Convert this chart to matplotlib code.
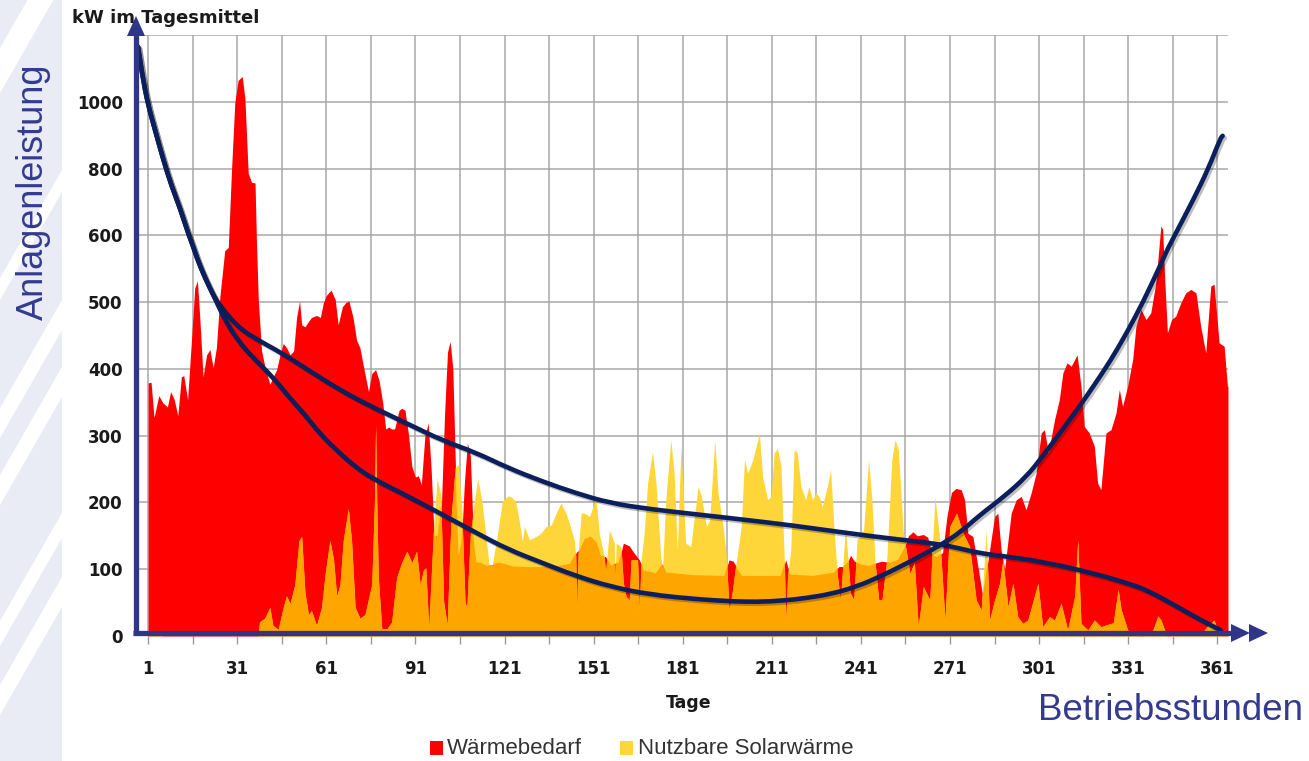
import numpy as np
import matplotlib
matplotlib.use("Agg")
import matplotlib.pyplot as plt
import matplotlib.patheffects as pe
from matplotlib.patches import Polygon, Rectangle, PathPatch
from matplotlib.path import Path

# ---- data ----
dem_day = [1, 2, 3, 4.6, 6, 7.5, 8.6, 9.8, 11, 12.2, 13, 14.3, 15.6, 16.7, 17.6, 18.4,
           19.5, 20.7, 21.8, 22.9, 24, 25.2, 26.8, 28, 29.1, 30.2, 31.3, 32.7, 33.6,
           34.7, 35.8, 37, 37.5, 38.1, 39.2, 40.3, 42, 43.1, 44.3, 45.4, 46.5, 47.6,
           48.8, 50, 51, 52, 52.7, 53.8, 55, 56, 57.7, 59, 60, 61, 62.6, 64, 65, 66.4,
           67.5, 68.6, 70, 71.2, 72.3, 73.5, 75.2, 76.3, 77.6, 78.8, 80, 81, 82, 83,
           84, 85.5, 86.4, 87.5, 88.6, 89.8, 91, 92, 93, 94.2, 95.3, 96.3, 97.3, 98.5,
           99.8, 100.8, 101.8, 102.7, 103.6, 104.5, 105.5, 106.5, 107.5, 108.5, 109.5,
           110.5, 111.5, 113, 115, 117, 119, 121, 124, 130, 138, 143, 145.3, 146.5,
           148, 150, 152, 153.5, 155, 157, 158.2, 159.5, 161, 163, 164.5, 166.4, 168,
           172, 174.2, 175.5, 185, 195, 196.6, 198, 199.5, 201, 214, 215.7, 217, 225,
           232, 233.6, 235, 236.5, 237.5, 238.8, 241, 244, 246.4, 248, 251, 253.5,
           255.5, 257, 258.5, 260, 262, 263.5, 265, 266.5, 268.5, 270, 271.5, 273,
           274.8, 275.9, 277, 278.7, 280.4, 282, 283.5, 286, 287.1, 288.2, 289.4,
           291.6, 293.3, 295, 296.6, 298.3, 300, 301.7, 302.8, 304.1, 306.2, 307.8,
           309, 310.4, 311.8, 313.8, 315.1, 316.2, 317.9, 319.6, 320.7, 321.8, 323.5,
           325.2, 326.9, 328, 329.1, 330.8, 332.5, 333.6, 335.3, 337, 338.6, 340.3,
           342, 342.6, 343.3, 344.2, 345.6, 347, 348.7, 350.4, 352.1, 353.8, 355.4,
           357.1, 358.8, 359.9, 361.6, 363.3, 364.4, 364.6]
dem_kw = [379, 380, 327, 360, 349, 343, 366, 354, 330, 388, 390, 354, 443, 521, 532, 477,
          388, 421, 429, 402, 432, 510, 577, 582, 798, 998, 1064, 1076, 1009,
          787, 759, 757, 588, 504, 427, 404, 377, 388, 399, 421, 438, 432,
          421, 427, 477, 502, 466, 463, 471, 477, 480, 477, 499, 510, 518, 504, 466, 493,
          499, 502, 477, 443, 432, 404, 366, 393, 399, 382, 349, 310, 313, 310,
          310, 338, 341, 338, 304, 254, 238, 240, 227, 300, 319, 250, 150, 150,
          200, 330, 425, 441, 400, 250, 120, 140, 230, 289, 270,
          150, 110, 110, 105, 107, 110, 108, 104, 103, 104, 108, 126, 130,
          145, 149, 140, 120, 119, 105, 109, 110, 139, 135, 125, 114, 98,
          94, 108, 95, 91, 90, 114, 112, 100, 90, 90, 114, 92, 90,
          95, 104, 104, 110, 121, 112, 107, 105, 110, 112, 110, 114,
          130, 150, 156, 150, 152, 148, 122, 118, 125, 180, 215, 221,
          219, 204, 154, 149, 104, 60, 104, 179, 184, 129, 100,
          184, 204, 209, 189, 214, 244, 304, 309, 274, 324, 354,
          394, 409, 404, 421, 374, 314, 304, 284, 229, 219, 304,
          309, 334, 369, 344, 374, 414, 464, 489, 474, 484, 529,
          628, 618, 534, 454, 474, 479, 499, 514, 519, 514, 464,
          424, 524, 527, 439, 434, 374, 374]

sol_day = [1, 3, 4, 5, 6, 38, 38.5, 40.3, 42, 43, 44.8, 46.5, 47.6, 48.8, 50.4, 51.8,
           52.7, 53.8, 55, 56, 57.7, 59.4, 60.6, 62.2, 63.4, 64.5, 65.6, 66.7, 68.4,
           69.5, 70.7, 72.3, 74, 76.3, 77.2, 77.6, 78, 78.5, 79.7, 81.3, 83, 84.7,
           86.4, 88.1, 89.8, 91.4, 92.6, 93.7, 94.5, 95.5, 97, 98.3, 99.5, 100.5,
           101.7, 103, 104.4, 105.5, 106.6, 107.7, 108.3, 109.5, 111, 112, 113.4,
           114.7, 115.8, 116.9, 118.6, 120.3, 121.4, 122.5, 123.6, 124.7, 125.8, 127,
           127.7, 129.4, 131.6, 133.3, 135, 136.7, 138.4, 140, 141.7, 142.8, 144.5,
           145, 145.3, 145.8, 146.8, 147.9, 149.6, 151.8, 152.9, 154.6, 155, 155.5,
           156.3, 158, 158.2, 158.6, 160.2, 161, 161.9, 163, 163.6, 165.8, 166.4, 167,
           168, 169.2, 170.8, 172, 173.6, 174.2, 175.3, 177, 178.1, 179.2, 180.4, 182,
           183.7, 184, 186.2, 187.3, 189, 190.1, 191.8, 192.9, 194.6, 195.7, 196.6,
           197.5, 198.5, 200.7, 201.8, 202.9, 204.6, 206.3, 206.8, 207.9, 209.6,
           210.7, 211.8, 212.9, 214.1, 215.2, 215.7, 216.3, 217.4, 218.5, 219.6,
           220.8, 222.4, 223.5, 224.7, 225.8, 226.9, 228, 229.7, 230.8, 231.9, 233,
           234.1, 235.8, 237.5, 238.6, 239.7, 241.9, 243.6, 244.7, 245.8, 247, 248.1,
           249.7, 251.4, 252.5, 253.6, 255.3, 257.5, 259, 260.3, 262, 264.2, 265.9,
           267.6, 269.3, 270.9, 273.2, 275.4, 277.6, 279.8, 281.5, 283.2, 284.3, 286,
           287.7, 288.8, 290.5, 292.2, 293.8, 295.5, 297.2, 300.6, 302.2, 304.5,
           306.2, 308.4, 310.6, 313, 314, 315.1, 317.4, 319.6, 321.8, 326, 327.6,
           328.6, 330.8, 335.3, 339, 341, 342, 344, 356, 357.5, 359.9, 361, 363, 364.6]
sol_kw = [0, 3, 6, 3, 0, 0, 21, 27, 43, 16, 10, 43, 60, 49, 77, 143,
          149, 66, 32, 38, 16, 43, 93, 143, 116, 60, 77, 143, 191,
          143, 43, 27, 32, 77, 200, 316, 200, 88, 10, 10, 21, 88,
          110, 127, 110, 127, 77, 99, 102, 12, 152, 237, 212, 52,
          17, 177, 252, 257, 192, 52, 42, 152, 207, 235, 202,
          152, 107, 107, 152, 202, 207, 210, 207, 202, 177, 142,
          164, 144, 149, 154, 164, 166, 184, 199, 184, 169, 144,
          120, 40, 124, 184, 184, 179, 206, 154, 119, 94, 119,
          159, 139, 84, 139, 134, 80, 60, 54, 114, 114, 39, 114,
          154, 229, 276, 229, 119, 99, 204, 294, 244, 129, 284, 139,
          134, 144, 224, 209, 164, 174, 294, 214, 164, 119, 39,
          60, 94, 164, 264, 244, 264, 294, 304, 239, 204,
          209, 274, 281, 254, 114, 24, 90, 129, 279, 274,
          224, 204, 224, 204, 214, 209, 194, 224, 249, 164, 94,
          54, 164, 64, 54, 144, 159, 264, 204, 109, 54, 54,
          114, 264, 294, 279, 154, 94, 110, 14, 74, 54, 209,
          144, 24, 164, 184, 154, 134, 54, 39, 159, 24, 54,
          79, 114, 44, 79, 29, 19, 24, 79, 14, 29,
          24, 49, 9, 60, 144, 19, 9, 24, 14, 20, 70,
          40, 9, 0, 5, 30, 24, 0, 5, 14, 24, 10, 5, 0]

# hand drawn overlay curves (day, kW), used as spline control points
dur_day = [-2.4, -1, 1, 3.5, 6, 8.8, 11.8, 14.5, 17.5, 20.1, 23, 25.1, 31.3, 38, 45.9,
           55, 65, 75, 89.2, 100, 111.7, 122, 134, 145, 156.6, 170, 186, 200, 217.2,
           235, 250.8, 267, 274.4, 281, 290, 302.4, 319.3, 330, 337.3, 347.4, 355, 362]
dur_kw = [1165, 1080, 990, 910, 830, 750, 680, 605, 565, 537, 510, 495, 462, 443, 424,
          398, 370, 346, 316, 293, 274, 252, 231, 214, 199, 190, 182, 175, 166,
          155, 146, 138, 131, 124, 119, 111, 94, 80, 69, 44, 25, 9]

u_day = [-2.4, -1, 1, 3.5, 6, 8.8, 11.8, 14.5, 17.5, 20.1, 23, 27, 31.3, 36, 42.5, 48,
         53.8, 59, 65, 70, 76, 89, 100, 111.7, 122, 134, 145, 156.6, 170, 186, 197,
         205.9, 215, 222.8, 231, 239.6, 248, 256.5, 262, 267.7, 274.4, 281, 289,
         296.8, 302, 308, 314, 319.3, 325, 330.5, 336, 341.7, 347, 353, 358, 362, 362.8]
u_kw = [1165, 1080, 990, 910, 830, 750, 680, 605, 565, 537, 510, 472, 442, 418, 390, 360,
        331, 302, 276, 256, 237, 208, 182, 154, 130, 109, 90, 74, 62, 55, 52,
        51, 53, 57, 63, 74, 90, 109, 122, 136, 155, 181, 208,
        239, 268, 304, 340, 374, 412, 454, 500, 554, 606, 708, 800, 890, 898]

x_major = list(range(1, 362, 30))
x_minor = list(range(16, 362, 30))
y_ticks = [0, 100, 200, 300, 400, 500, 600, 800, 1000, 1200]
y_labels = ['0', '100', '200', '300', '400', '500', '600', '800', '1000', '']

RED = '#ff0000'
ORANGE = '#ffa500'
YELLOW = '#ffd63a'
NAVY = '#0b1f5c'
AXBLUE = '#2f3587'


def fwd(v):
    v = np.asarray(v, dtype=float)
    return np.where(v <= 600, v, 600 + (v - 600) / 2)


def inv(v):
    v = np.asarray(v, dtype=float)
    return np.where(v <= 600, v, 600 + (v - 600) * 2)


def smooth_path(xs, ys):
    # quadratic b-spline: points act as control points, bezier drawn by matplotlib
    pts = np.column_stack([xs, ys])
    verts = [pts[0]]
    codes = [Path.MOVETO]
    for i in range(1, len(pts) - 1):
        verts += [pts[i], (pts[i] + pts[i + 1]) / 2]
        codes += [Path.CURVE3, Path.CURVE3]
    verts.append(pts[-1])
    codes.append(Path.LINETO)
    return Path(verts, codes)


W, H = 1309, 761
fig = plt.figure(figsize=(W / 100, H / 100), dpi=100)

# slide background on the left
bg = fig.add_axes([0, 0, 1, 1], zorder=0)
bg.set_xlim(0, W)
bg.set_ylim(H, 0)
bg.axis('off')
bg.add_patch(Polygon([(0, 0), (62, 0), (62, H), (0, H)], color='#e9ecf5', lw=0))
for y0, th in [(-60, 45), (170, 22), (300, 30), (367, 30), (513, 25), (577, 30)]:
    bg.add_patch(Polygon([(62, y0), (62, y0 + th), (0, y0 + th + 108), (0, y0 + 108)],
                         color='white', lw=0))

ax = fig.add_axes([138 / W, (H - 636) / H, (1228 - 138) / W, (636 - 35) / H], zorder=1)
ax.set_yscale('function', functions=(fwd, inv))
ax.set_xlim(-2.4, 364.6)
ax.set_ylim(0, 1200)

red = ax.fill_between(dem_day, 0, dem_kw, color=RED, lw=0, zorder=2)
ax.fill_between(sol_day, 0, sol_kw, color=YELLOW, lw=0, zorder=3)
org = ax.fill_between(sol_day, 0, sol_kw, color=ORANGE, lw=0, zorder=4)
org.set_clip_path(red.get_paths()[0], ax.transData)

shadow = [pe.SimpleLineShadow(offset=(1.5, -1.5), alpha=0.25), pe.Normal()]
for xs, ys in [(dur_day, dur_kw), (u_day, u_kw)]:
    ax.add_patch(PathPatch(smooth_path(xs, ys), fill=False, edgecolor=NAVY, lw=3.3,
                           capstyle='round', joinstyle='round', zorder=6,
                           path_effects=shadow))

ax.set_xticks(x_major)
ax.set_xticks(x_minor, minor=True)
ax.set_yticks(y_ticks)
ax.set_yticklabels(y_labels)
ax.yaxis.set_minor_locator(matplotlib.ticker.NullLocator())
ax.grid(True, which='both', color='#a8a8a8', lw=1.1)
ax.set_axisbelow(True)
for s in ax.spines.values():
    s.set_visible(False)
ax.tick_params(axis='x', which='both', length=6, width=1, color='#9a9a9a',
               pad=11, labelsize=12, labelcolor='#1a1a1a')
ax.tick_params(axis='y', length=0, pad=11, labelsize=12, labelcolor='#1a1a1a')
for lab in ax.get_xticklabels() + ax.get_yticklabels():
    lab.set_fontweight('bold')

# overlay: arrows, titles, legend
ov = fig.add_axes([0, 0, 1, 1], zorder=3)
ov.set_xlim(0, W)
ov.set_ylim(H, 0)
ov.axis('off')
ov.patch.set_alpha(0)

ov.plot([136, 136], [635, 32], color=AXBLUE, lw=3.8, solid_capstyle='butt')
ov.add_patch(Polygon([(127, 36), (145, 36), (136, 16)], color=AXBLUE, lw=0))
ov.plot([133, 1240], [633, 633], color=AXBLUE, lw=3.8, solid_capstyle='butt')
ov.add_patch(Polygon([(1231, 624), (1231, 642), (1250, 633)], color=AXBLUE, lw=0))
ov.add_patch(Polygon([(1249, 624), (1249, 642), (1268, 633)], color=AXBLUE, lw=0))

ov.text(72, 18, 'kW im Tagesmittel', fontsize=13, fontweight='bold',
        color='#1a1a1a', ha='left', va='center')
ov.text(689, 703, 'Tage', fontsize=12.5, fontweight='bold', color='#1a1a1a',
        ha='center', va='center')
ov.text(33, 192, 'Anlagenleistung', fontsize=26, family='Liberation Sans',
        color='#343b8f', rotation=90, ha='center', va='center')
ov.text(1303, 710, 'Betriebsstunden', fontsize=26.5, family='Liberation Sans',
        color='#343b8f', ha='right', va='center')

ov.add_patch(Rectangle((430, 741), 13, 14, color=RED, lw=0))
ov.text(447, 748, 'Wärmebedarf', fontsize=16, family='Liberation Sans',
        color='#333333', ha='left', va='center')
ov.add_patch(Rectangle((620, 741), 13, 14, color=YELLOW, lw=0))
ov.text(638, 748, 'Nutzbare Solarwärme', fontsize=16, family='Liberation Sans',
        color='#333333', ha='left', va='center')

fig.savefig('out.png', dpi=100, facecolor='white')
